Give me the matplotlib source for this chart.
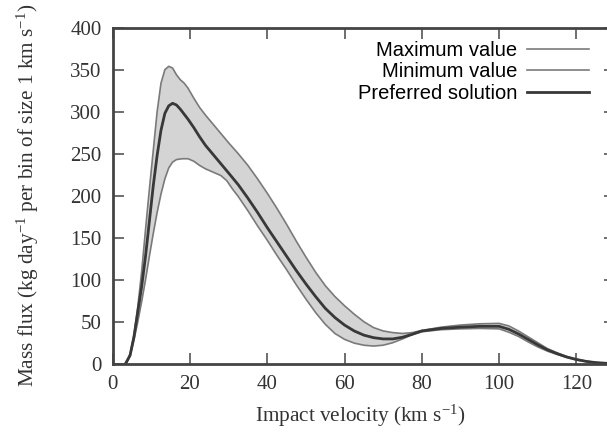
import numpy as np
import matplotlib.pyplot as plt

plt.rcParams['font.family'] = 'Liberation Serif'
plt.rcParams['mathtext.fontset'] = 'custom'
plt.rcParams['mathtext.rm'] = 'Liberation Serif'
plt.rcParams['mathtext.it'] = 'Liberation Serif:italic'

# upper edge of the band
v_max = [3.5, 4.5, 5.5, 6.5, 7.5, 8.5, 9.5, 10.5, 11.5, 12.5, 13.5, 14.5, 15.5,
         16.5, 17.5, 18.5, 19.5, 21.0, 22.5, 24.0, 26.0, 28.0, 30.0, 32.5, 35.0,
         37.5, 40.0, 42.5, 45.0, 47.5, 50.0, 52.5, 55.0, 57.5, 60.0, 62.5, 65.0,
         67.5, 70.0, 72.5, 75.0, 77.5, 80.0, 85.0, 90.0, 95.0, 100.0, 102.5, 105.0,
         107.5, 110.0, 112.5, 115.0, 117.5, 120.0, 122.5, 125.0, 128.0, 130.0]
f_max = [0, 12, 34, 68, 110, 160, 208, 254, 300, 334, 350, 354, 352,
         344, 338, 334, 328, 316, 305, 296, 285, 274, 263, 250, 236,
         220, 203, 185, 166, 146, 127, 109, 93, 80, 69, 59, 50,
         43, 39, 37, 36, 37, 39.5, 43.5, 46, 47.5, 48, 45, 39,
         32, 25, 18, 13, 8.5, 5.5, 3, 1.5, 0.5, 0.2]

# lower edge of the band
v_min = [3.5, 4.5, 5.5, 6.5, 7.5, 8.5, 9.5, 10.5, 11.5, 12.5, 13.5, 14.5, 15.5,
         16.5, 18.0, 19.5, 21.0, 22.5, 24.0, 26.0, 28.0, 29.5, 31.0, 32.5, 35.0,
         37.5, 40.0, 42.5, 45.0, 47.5, 50.0, 52.5, 55.0, 57.5, 60.0, 62.5, 65.0,
         67.5, 70.0, 72.5, 75.0, 77.5, 80.0, 85.0, 90.0, 95.0, 100.0, 102.5, 105.0,
         107.5, 110.0, 112.5, 115.0, 117.5, 120.0, 122.5, 125.0, 128.0, 130.0]
f_min = [0, 9, 28, 50, 74, 100, 128, 155, 180, 202, 220, 233, 240,
         243, 244, 244, 241, 236, 232, 228, 224, 218, 208, 199, 182,
         164, 147, 129, 112, 94, 77, 61, 47, 36, 29, 24.5, 22,
         21, 22, 25, 29.5, 34.5, 38, 40.5, 41.5, 42, 41.5, 37.5, 32.5,
         26, 20, 15, 11, 7.5, 4.5, 2.5, 1.2, 0.3, 0.1]

# preferred solution
v_pref = [3.3, 4.5, 5.5, 6.5, 7.5, 8.5, 9.5, 10.5, 11.5, 12.5, 13.5, 14.5, 15.5,
          16.5, 17.5, 18.5, 19.5, 21.0, 22.5, 24.0, 26.0, 28.0, 30.0, 32.5, 35.0,
          37.5, 40.0, 42.5, 45.0, 47.5, 50.0, 52.5, 55.0, 57.5, 60.0, 62.5, 65.0,
          67.5, 70.0, 72.5, 75.0, 77.5, 80.0, 85.0, 90.0, 95.0, 100.0, 102.5, 105.0,
          107.5, 110.0, 112.5, 115.0, 117.5, 120.0, 122.5, 125.0, 128.0, 130.0]
f_pref = [0, 10, 32, 62, 92, 128, 170, 212, 248, 278, 298, 307, 310,
          308, 303, 297, 291, 281, 270, 260, 249, 238, 227, 213, 197,
          180, 162, 145, 128, 111, 95, 80, 66, 55, 46, 39, 34,
          31, 29.5, 29.5, 31.5, 35, 39, 42, 43.5, 44.5, 44.5, 41, 35.5,
          29, 22.5, 16.5, 12, 8, 5, 2.8, 1.3, 0.4, 0.15]

fig = plt.figure(figsize=(6.07, 4.37), dpi=100)
# the right spine sits just past the picture's right edge
ax = fig.add_axes([112.7 / 607, 1 - 363.7 / 437, 502.3 / 607, 336 / 437])

ax.fill(np.r_[v_max, v_min[::-1]], np.r_[f_max, f_min[::-1]], color='#d4d4d4', lw=0)
ax.plot(v_max, f_max, color='#7a7a7a', lw=1.2, label='Maximum value')
ax.plot(v_min, f_min, color='#7a7a7a', lw=1.2, label='Minimum value')
ax.plot(v_pref, f_pref, color='#383838', lw=2.0, label='Preferred solution')

ax.set_xlim(0, 130)
ax.set_ylim(0, 400)
ax.set_xticks(np.arange(0, 121, 20))
ax.set_yticks(np.arange(0, 401, 50))
ax.tick_params(direction='in', top=True, right=True, length=8, width=1.2,
               labelsize=15, pad=8, color='#555555', labelcolor='#333333')
for s in ax.spines.values():
    s.set_linewidth(2)
    s.set_color('#444444')

ax.set_xlabel('Impact velocity (km s$^{-1}$)', fontsize=15.3, color='#333333', labelpad=5)
ax.xaxis.set_label_coords((360 - 112.7) / 502.3, -0.115)
ax.set_ylabel('Mass flux (kg day$^{-1}$ per bin of size 1 km s$^{-1}$)', fontsize=15.3,
              color='#333333')
ax.yaxis.set_label_coords(-0.143, 0.5)

ax.legend(loc='upper right', bbox_to_anchor=(589 / 607, 1 - 41 / 437),
          bbox_transform=fig.transFigure, frameon=False, markerfirst=False,
          prop={'family': 'Liberation Sans', 'size': 14.5}, handlelength=3.1,
          handletextpad=0.45, borderpad=0, borderaxespad=0, labelspacing=0.12)

fig.savefig('out.png', dpi=100)
